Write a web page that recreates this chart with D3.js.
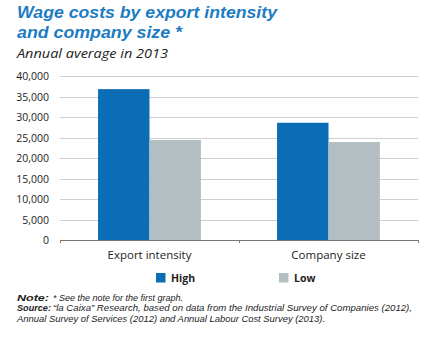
<!DOCTYPE html>
<html><head><meta charset="utf-8">
<script src="https://cdn.jsdelivr.net/npm/d3@7"></script>
<style>body{margin:0;background:#fff}svg{display:block}</style>
</head><body>
<svg id="c" width="429" height="338"></svg>
<script>
const categories = ["Export intensity", "Company size"];
const seriesNames = ["High", "Low"];
const highValues = [36800, 28600];
const lowValues = [24400, 23900];
const yTicks = [0, 5000, 10000, 15000, 20000, 25000, 30000, 35000, 40000];
const titleLines = ["Wage costs by export intensity", "and company size *"];
const subtitle = "Annual average in 2013";

const colors = {High: "#0a6db6", Low: "#b3bec3"};
const svg = d3.select("#c");
const font = "'Open Sans', 'Noto Sans', sans-serif";
const noteFont = "'Liberation Sans', Arial, sans-serif";

const x0 = d3.scaleBand().domain(categories).range([60, 418]).paddingInner(0).paddingOuter(0);
const x1 = d3.scaleBand().domain(seriesNames).range([0, x0.bandwidth()]).paddingInner(0).paddingOuter(0.74);
const y = d3.scaleLinear().domain([0, 40000]).range([240, 76]);

// title
svg.selectAll("text.title").data(titleLines).join("text")
  .attr("x", 17).attr("y", (d,i) => 17.5 + i*20)
  .attr("font-family", noteFont).attr("font-weight", "bold").attr("font-style", "italic")
  .attr("font-size", 16.5).attr("fill", "#1b7cc2")
  .attr("textLength", (d,i) => i === 0 ? 260 : 165).attr("lengthAdjust", "spacingAndGlyphs")
  .text(d => d);
svg.append("text").attr("x", 17).attr("y", 58)
  .attr("font-family", font).attr("font-style", "italic").attr("font-size", 13.5).attr("fill", "#222")
  .attr("textLength", 151).attr("lengthAdjust", "spacingAndGlyphs")
  .text(subtitle);

// gridlines
svg.append("g").selectAll("line").data(yTicks.filter(t => t > 0)).join("line")
  .attr("x1", 60).attr("x2", 418).attr("y1", d => Math.round(y(d)) + 0.5).attr("y2", d => Math.round(y(d)) + 0.5)
  .attr("stroke", "#cfcfcf").attr("stroke-width", 1);

// y labels
const yAxis = d3.axisLeft(y).tickValues(yTicks).tickSize(0).tickPadding(0)
  .tickFormat(d3.format(","));
const ya = svg.append("g").attr("transform", "translate(49,0)").call(yAxis);
ya.select(".domain").remove();
ya.selectAll("text").attr("font-family", font).attr("font-size", 10.5).attr("fill", "#222").attr("dy", "0.35em");

// bars
const data = categories.map((c, i) => ({cat: c, vals: [{s: "High", v: highValues[i]}, {s: "Low", v: lowValues[i]}]}));
svg.append("g").selectAll("g").data(data).join("g")
  .attr("transform", d => `translate(${x0(d.cat)},0)`)
  .selectAll("rect").data(d => d.vals).join("rect")
  .attr("x", d => x1(d.s)).attr("width", x1.bandwidth())
  .attr("y", d => y(d.v)).attr("height", d => y(0) - y(d.v))
  .attr("fill", d => colors[d.s]);

// x axis
const xAxis = d3.axisBottom(x0).tickSize(0).tickPadding(0);
const xa = svg.append("g").attr("transform", "translate(0,240)").call(xAxis);
xa.select(".domain").attr("stroke", "#777").attr("d", "M60.5,0.5H418.5");
xa.selectAll(".tick text").attr("font-family", font).attr("font-size", 11.5).attr("fill", "#222").attr("dy", 0).attr("y", 19);
const tickXs = [x0.range()[0]].concat(categories.map(c => x0(c) + x0.bandwidth()));
xa.selectAll("line.sep").data(tickXs).join("line").attr("class", "sep")
  .attr("x1", d => Math.round(d) + 0.5).attr("x2", d => Math.round(d) + 0.5)
  .attr("y1", 0).attr("y2", 3).attr("stroke", "#777");

// legend
const legX = [156, 279];
const lg = svg.append("g").selectAll("g").data(seriesNames).join("g")
  .attr("transform", (d,i) => `translate(${legX[i]},273)`);
lg.append("rect").attr("width", 9.5).attr("height", 9.5).attr("fill", d => colors[d]);
lg.append("text").attr("x", 15).attr("y", 8.7).attr("font-family", font).attr("font-weight", "bold")
  .attr("font-size", 10.5).attr("fill", "#222").text(d => d);

// notes: [text, bold, x, length]
const notes = [
  [["Note:", true, 17, 32], ["* See the note for the first graph.", false, 53, 130]],
  [["Source:", true, 17, 34], ["“la Caixa” Research, based on data from the Industrial Survey of Companies (2012),", false, 53, 359]],
  [["Annual Survey of Services (2012) and Annual Labour Cost Survey (2013).", false, 17, 308]]
];
notes.forEach((ln, i) => {
  ln.forEach(([s, b, x, len]) => {
    svg.append("text").attr("x", x).attr("y", 300.5 + i*10.7)
      .attr("font-family", noteFont).attr("font-style", "italic").attr("font-weight", b ? "bold" : "normal")
      .attr("font-size", 9.2).attr("fill", "#222")
      .attr("textLength", len).attr("lengthAdjust", "spacingAndGlyphs").text(s);
  });
});
</script>
</body></html>
